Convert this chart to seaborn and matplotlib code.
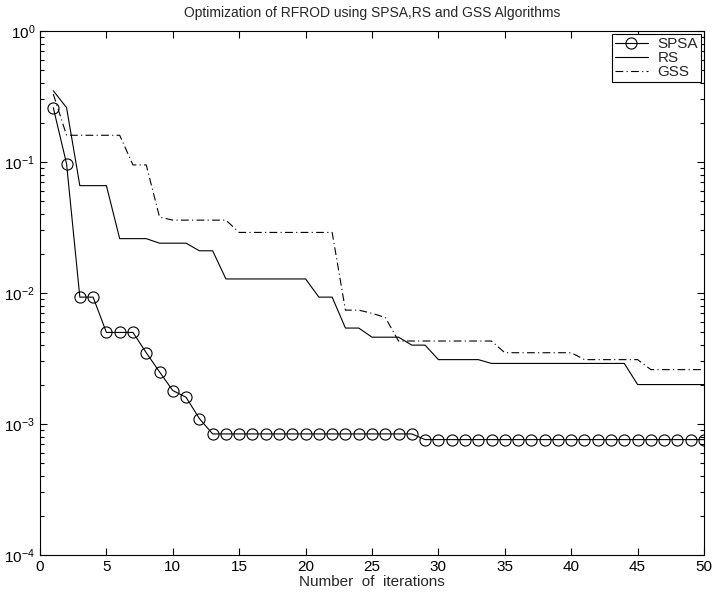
import numpy as np
import pandas as pd
import matplotlib
matplotlib.use('Agg')
import matplotlib.pyplot as plt
from matplotlib.ticker import LogLocator, FixedLocator
import seaborn as sns

iterations = list(range(1, 51))

spsa = [0.26, 0.097, 0.0093, 0.0093, 0.0050, 0.0050, 0.0050, 0.0035, 0.0025, 0.0018,
        0.0016, 0.0011] + [0.00084] * 16 + [0.00076] * 22

rs = [0.35, 0.26, 0.066, 0.066, 0.066, 0.026, 0.026, 0.026, 0.024, 0.024,
      0.024, 0.021, 0.021] + [0.0128] * 7 + [0.0093] * 2 + [0.0054] * 2 \
     + [0.0046] * 3 + [0.0040] * 2 + [0.0031] * 4 + [0.0029] * 11 + [0.0020] * 6

gss = [0.33] + [0.16] * 5 + [0.095] * 2 + [0.038] + [0.036] * 5 + [0.029] * 8 \
      + [0.0074] * 2 + [0.0070, 0.0065] + [0.0043] * 8 + [0.0035] * 6 \
      + [0.0031] * 5 + [0.0026] * 5

df = pd.DataFrame({'iter': iterations, 'SPSA': spsa, 'RS': rs, 'GSS': gss})

sns.set_style('ticks')
plt.rcParams['font.family'] = ['Liberation Sans', 'DejaVu Sans']
plt.rcParams['mathtext.fontset'] = 'custom'
plt.rcParams['mathtext.rm'] = 'Liberation Sans'

fig = plt.figure(figsize=(7.12, 5.94), dpi=100)
ax = fig.add_axes([40 / 712, 1 - 555 / 594, 664 / 712, 524 / 594])

sns.lineplot(data=df, x='iter', y='SPSA', ax=ax, color='k', linewidth=0.8,
             marker='o', markersize=8, markerfacecolor='none',
             markeredgecolor='k', markeredgewidth=0.8, label='SPSA')
sns.lineplot(data=df, x='iter', y='RS', ax=ax, color='k', linewidth=0.8,
             label='RS')
sns.lineplot(data=df, x='iter', y='GSS', ax=ax, color='k', linewidth=0.8,
             linestyle=(0, (7, 3, 1, 3)), label='GSS')

ax.set_yscale('log')
ax.set_xlim(0, 50)
ax.set_ylim(1e-4, 1)
ax.xaxis.set_major_locator(FixedLocator(np.arange(0, 51, 5)))
ax.yaxis.set_major_locator(LogLocator(base=10, numticks=10))
ax.yaxis.set_minor_locator(LogLocator(base=10, subs=np.arange(2, 10), numticks=20))

ax.tick_params(which='both', direction='in', top=True, right=True,
               labelsize=11, colors='k', width=0.8)
ax.tick_params(which='major', length=5)
ax.tick_params(which='minor', length=3)
for sp in ax.spines.values():
    sp.set_linewidth(0.8)
    sp.set_color('k')

ax.set_xlabel('Number  of  iterations', fontsize=11, labelpad=1)
ax.set_ylabel('')
ax.set_title('Optimization of RFROD using SPSA,RS and GSS Algorithms', fontsize=10, pad=10)

leg = ax.legend(loc='upper right', fontsize=11, frameon=True, fancybox=False,
                edgecolor='k', framealpha=1, handlelength=2.2, borderpad=0.2,
                labelspacing=0.0, borderaxespad=0.2, handletextpad=0.6)
leg.get_frame().set_linewidth(0.8)

fig.savefig('out.png', dpi=100)
